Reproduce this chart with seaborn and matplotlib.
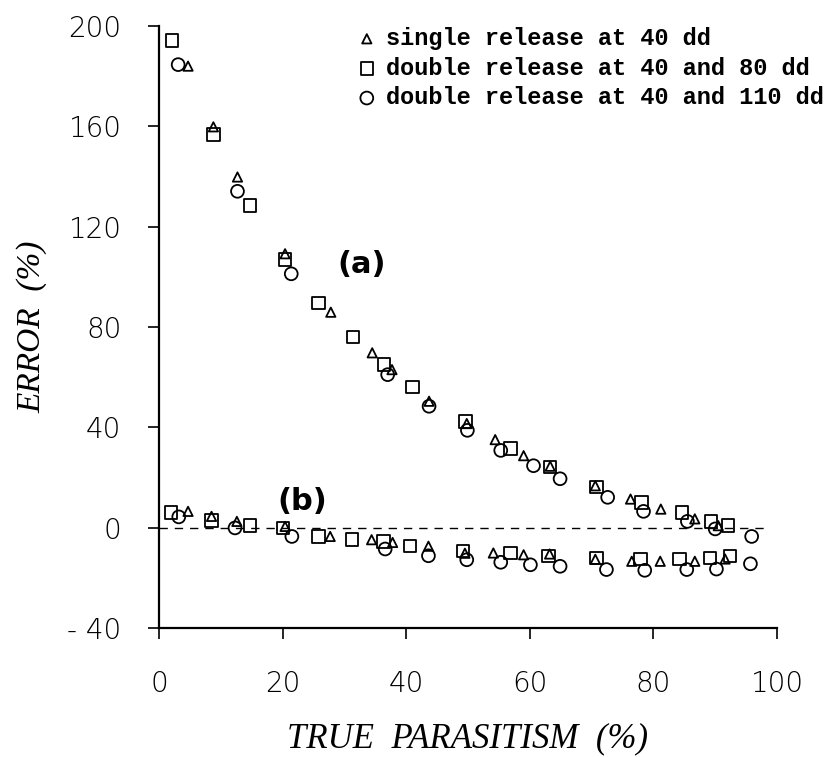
import matplotlib
matplotlib.use("Agg")
import matplotlib.pyplot as plt
import seaborn as sns
import pandas as pd

# (a) upper curve
tri_a_x = [4.7, 8.8, 12.7, 20.4, 27.8, 34.5, 37.7, 43.7, 49.8, 54.4, 59.0, 63.3, 70.6, 76.3, 81.2, 86.7, 90.5]
tri_a_y = [184.0, 159.8, 139.8, 109.2, 85.9, 69.7, 63.0, 50.4, 41.5, 35.1, 28.7, 24.5, 16.7, 11.4, 7.4, 3.5, 0.8]
sq_a_x = [2.1, 8.8, 14.7, 20.4, 25.8, 31.4, 36.4, 41.0, 49.6, 56.9, 63.3, 70.8, 78.1, 84.6, 89.3, 92.1]
sq_a_y = [194.3, 156.7, 128.4, 106.9, 89.6, 76.0, 65.0, 56.1, 42.4, 31.5, 24.2, 16.2, 10.1, 6.1, 2.5, 0.8]
ci_a_x = [3.1, 12.7, 21.4, 37.0, 43.7, 49.9, 55.3, 60.6, 64.9, 72.6, 78.4, 85.5, 90.0, 95.9]
ci_a_y = [184.6, 134.1, 101.2, 61.0, 48.4, 38.8, 30.8, 24.7, 19.5, 12.1, 6.5, 2.5, -0.5, -3.5]

# (b) lower curve
tri_b_x = [4.7, 8.5, 12.6, 20.4, 27.7, 34.4, 37.8, 43.6, 49.5, 54.1, 59.0, 63.2, 70.6, 76.5, 81.1, 86.7, 91.6]
tri_b_y = [6.5, 4.5, 2.5, 0.5, -3.5, -4.8, -5.9, -7.4, -10.2, -10.1, -10.8, -10.5, -12.6, -13.4, -13.4, -13.4, -12.5]
sq_b_x = [1.9, 8.5, 14.7, 20.1, 25.8, 31.2, 36.3, 40.6, 49.2, 56.9, 63.0, 70.8, 77.9, 84.2, 89.2, 92.4]
sq_b_y = [6.1, 2.9, 0.9, -0.1, -3.5, -4.8, -5.5, -7.2, -9.4, -10.1, -11.2, -12.1, -12.5, -12.5, -12.1, -11.4]
ci_b_x = [3.2, 12.3, 21.5, 36.6, 43.6, 49.8, 55.3, 60.1, 64.9, 72.4, 78.6, 85.4, 90.2, 95.7]
ci_b_y = [4.3, -0.1, -3.5, -8.5, -11.2, -12.8, -13.8, -14.8, -15.4, -16.7, -17.0, -16.7, -16.5, -14.4]

labels = ["single release at 40 dd",
          "double release at 40 and 80 dd",
          "double release at 40 and 110 dd"]
x_ticks = [0, 20, 40, 60, 80, 100]
x_ticklabels = ["0", "20", "40", "60", "80", "100"]
y_ticks = [-40, 0, 40, 80, 120, 160, 200]
y_ticklabels = ["- 40", "0", "40", "80", "120", "160", "200"]

df = pd.concat([
    pd.DataFrame({"x": tri_a_x + tri_b_x, "y": tri_a_y + tri_b_y, "series": labels[0]}),
    pd.DataFrame({"x": sq_a_x + sq_b_x, "y": sq_a_y + sq_b_y, "series": labels[1]}),
    pd.DataFrame({"x": ci_a_x + ci_b_x, "y": ci_a_y + ci_b_y, "series": labels[2]}),
])

sns.set_style("ticks")
plt.rcParams["text.color"] = "black"
plt.rcParams["xtick.color"] = "black"
plt.rcParams["ytick.color"] = "black"
plt.rcParams["axes.labelcolor"] = "black"

fig = plt.figure(figsize=(8.24, 7.57), dpi=100)
ax = fig.add_axes([159 / 824, 1 - 628 / 757, (777 - 159) / 824, (628 - 26) / 757])

styles = {labels[0]: ("^", 45), labels[1]: ("s", 80), labels[2]: ("o", 85)}
for lab in labels:
    m, s = styles[lab]
    sns.scatterplot(data=df[df["series"] == lab], x="x", y="y", marker=m, s=s,
                    facecolor="none", edgecolor="black", linewidth=1.3,
                    label=lab, ax=ax, zorder=3)

ax.axhline(0, xmin=0, xmax=0.98, color="black", linestyle=(0, (6, 5)), linewidth=1.0, zorder=1)

ax.set_xlim(0, 100)
ax.set_ylim(-40, 200)
ax.set_xticks(x_ticks)
ax.set_xticklabels(x_ticklabels, fontsize=20, fontweight="light", color="black")
ax.set_yticks(y_ticks)
ax.set_yticklabels(y_ticklabels, fontsize=20, fontweight="light", color="black")
ax.tick_params(axis="both", direction="out", length=8, width=1.2, color="black")
ax.tick_params(axis="y", pad=19)
ax.tick_params(axis="x", pad=22)
sns.despine(ax=ax)
for sp in ["left", "bottom"]:
    ax.spines[sp].set_linewidth(1.6)
    ax.spines[sp].set_color("black")

ax.set_xlabel("TRUE  PARASITISM  (%)", family="Liberation Serif", style="italic",
              fontsize=25, labelpad=18, color="black")
ax.set_ylabel("ERROR  (%)", family="Liberation Serif", style="italic",
              fontsize=24, labelpad=14, color="black")

ax.text(32.8, 105, "(a)", fontsize=22, fontweight="bold", ha="center", va="center", color="black")
ax.text(23.1, 10.4, "(b)", fontsize=22, fontweight="bold", ha="center", va="center", color="black")

leg = ax.legend(loc="upper left", bbox_to_anchor=(355 / 824, 1 - 27 / 757), bbox_transform=fig.transFigure,
                frameon=False, borderpad=0, borderaxespad=0, handlelength=1.0, handletextpad=0.3,
                labelspacing=0.28, prop={"family": "Liberation Mono", "weight": "bold", "size": 17})
for t in leg.get_texts():
    t.set_color("black")

fig.savefig("out.png", dpi=100, facecolor="white")
